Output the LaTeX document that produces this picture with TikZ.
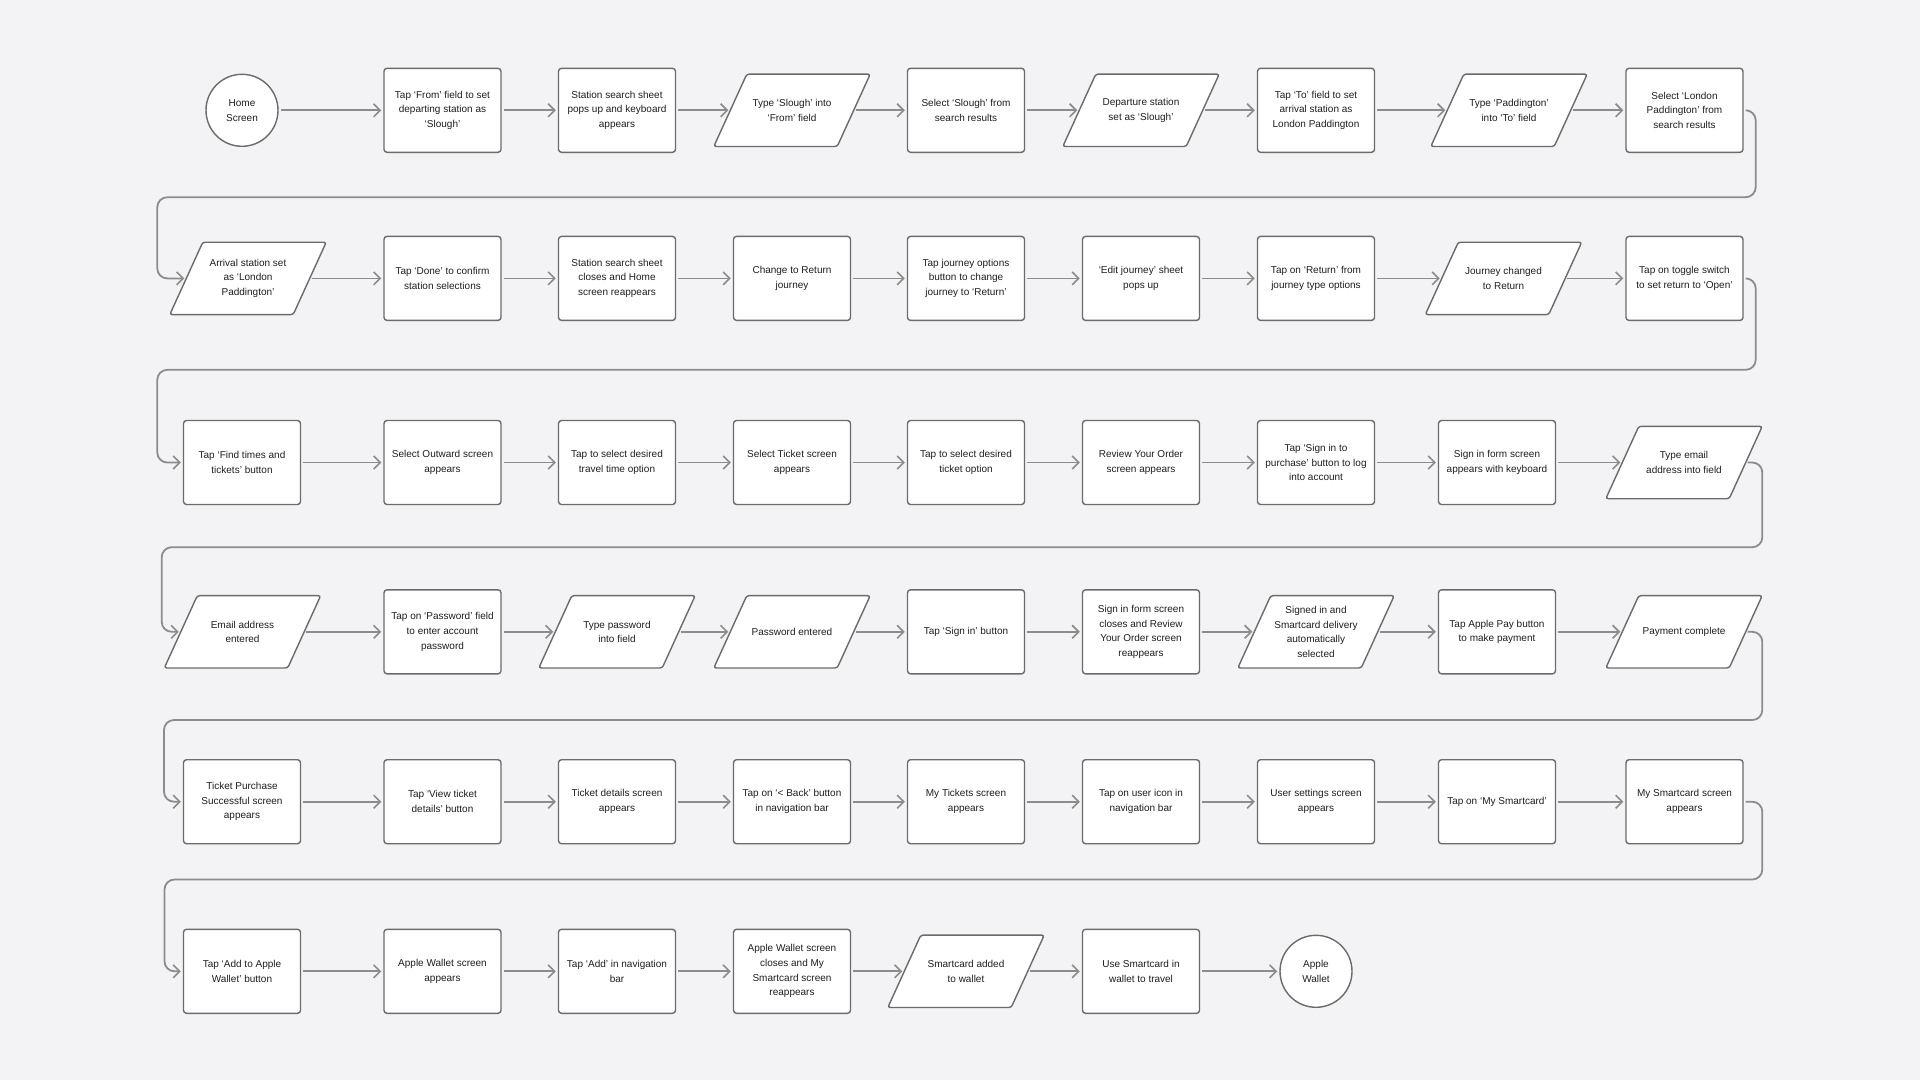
\documentclass[tikz,border=0pt]{standalone}
\usepackage{fontspec}
\setmainfont{Liberation Sans}
\usetikzlibrary{arrows.meta}
\definecolor{bgc}{HTML}{F3F3F5}
\definecolor{edgec}{HTML}{6B6B6B}
\definecolor{linec}{HTML}{8C8C8C}
\definecolor{txtc}{HTML}{1F1F1F}
\pgfdeclarelayer{background}
\pgfsetlayers{background,main}
\begin{document}
\begin{tikzpicture}[x=1pt,y=-1pt,
  txt/.style={font=\fontsize{10}{14.7}\selectfont, text=txtc, align=center, inner sep=0pt},
  box/.style={txt, draw=edgec, fill=white, line width=1.4pt, rounded corners=3pt, minimum width=117pt, minimum height=84pt},
  term/.style={txt, circle, draw=edgec, fill=white, line width=1.4pt, minimum size=72pt},
  para/.style={txt, minimum width=123pt, minimum height=72pt},
  paraoutline/.style={draw=edgec, fill=white, line width=1.4pt, rounded corners=2.5pt},
  conn/.style={draw=linec, line width=1.8pt, -{Straight Barb[length=6.5pt,width=13pt,line width=1.6pt]}, shorten <=2pt, shorten >=2pt},
]
\useasboundingbox (0,0) rectangle (1920,1080);
% Row 1
\node[term] (n1) at (242,110.3) {Home\\Screen};
\node[box]  (n2) at (442.5,110.3) {Tap ‘From’ field to set\\departing station as\\‘Slough’};
\node[box]  (n3) at (617,110.3) {Station search sheet\\pops up and keyboard\\appears};
\node[para] (n4) at (792,110.3) {Type ‘Slough’ into\\‘From’ field};
\node[box]  (n5) at (966,110.3) {Select ‘Slough’ from\\search results};
\node[para] (n6) at (1141,110.3) {Departure station\\set as ‘Slough’};
\node[box]  (n7) at (1316,110.3) {Tap ‘To’ field to set\\arrival station as\\London Paddington};
\node[para] (n8) at (1509,110.3) {Type ‘Paddington’\\into ‘To’ field};
\node[box]  (n9) at (1684.5,110.3) {Select ‘London\\Paddington’ from\\search results};
% Row 2
\node[para] (m1) at (248,278.4) {Arrival station set\\as ‘London\\Paddington’};
\node[box]  (m2) at (442.5,278.4) {Tap ‘Done’ to confirm\\station selections};
\node[box]  (m3) at (617,278.4) {Station search sheet\\closes and Home\\screen reappears};
\node[box]  (m4) at (792,278.4) {Change to Return\\journey};
\node[box]  (m5) at (966,278.4) {Tap journey options\\button to change\\journey to ‘Return’};
\node[box]  (m6) at (1141,278.4) {‘Edit journey’ sheet\\pops up};
\node[box]  (m7) at (1316,278.4) {Tap on ‘Return’ from\\journey type options};
\node[para] (m8) at (1503.5,278.4) {Journey changed\\to Return};
\node[box]  (m9) at (1684.5,278.4) {Tap on toggle switch\\to set return to ‘Open’};
% Row 3
\node[box]  (r1) at (242,462.5) {Tap ‘Find times and\\tickets’ button};
\node[box]  (r2) at (442.5,462.5) {Select Outward screen\\appears};
\node[box]  (r3) at (617,462.5) {Tap to select desired\\travel time option};
\node[box]  (r4) at (792,462.5) {Select Ticket screen\\appears};
\node[box]  (r5) at (966,462.5) {Tap to select desired\\ticket option};
\node[box]  (r6) at (1141,462.5) {Review Your Order\\screen appears};
\node[box]  (r7) at (1316,462.5) {Tap ‘Sign in to\\purchase’ button to log\\into account};
\node[box]  (r8) at (1497,462.5) {Sign in form screen\\appears with keyboard};
\node[para] (r9) at (1684,462.5) {Type email\\address into field};
% Row 4
\node[para] (s1) at (242.5,631.8) {Email address\\entered};
\node[box]  (s2) at (442.5,631.8) {Tap on ‘Password’ field\\to enter account\\password};
\node[para] (s3) at (617,631.8) {Type password\\into field};
\node[para] (s4) at (792,631.8) {Password entered};
\node[box]  (s5) at (966,631.8) {Tap ‘Sign in’ button};
\node[box]  (s6) at (1141,631.8) {Sign in form screen\\closes and Review\\Your Order screen\\reappears};
\node[para] (s7) at (1316,631.8) {Signed in and\\Smartcard delivery\\automatically\\selected};
\node[box]  (s8) at (1497,631.8) {Tap Apple Pay button\\to make payment};
\node[para] (s9) at (1684,631.8) {Payment complete};
% Row 5
\node[box]  (t1) at (242,801.7) {Ticket Purchase\\Successful screen\\appears};
\node[box]  (t2) at (442.5,801.7) {Tap ‘View ticket\\details’ button};
\node[box]  (t3) at (617,801.7) {Ticket details screen\\appears};
\node[box]  (t4) at (792,801.7) {Tap on ‘< Back’ button\\in navigation bar};
\node[box]  (t5) at (966,801.7) {My Tickets screen\\appears};
\node[box]  (t6) at (1141,801.7) {Tap on user icon in\\navigation bar};
\node[box]  (t7) at (1316,801.7) {User settings screen\\appears};
\node[box]  (t8) at (1497,801.7) {Tap on ‘My Smartcard’};
\node[box]  (t9) at (1684.5,801.7) {My Smartcard screen\\appears};
% Row 6
\node[box]  (u1) at (242,971.3) {Tap ‘Add to Apple\\Wallet’ button};
\node[box]  (u2) at (442.5,971.3) {Apple Wallet screen\\appears};
\node[box]  (u3) at (617,971.3) {Tap ‘Add’ in navigation\\bar};
\node[box]  (u4) at (792,971.3) {Apple Wallet screen\\closes and My\\Smartcard screen\\reappears};
\node[para] (u5) at (966,971.3) {Smartcard added\\to wallet};
\node[box]  (u6) at (1141,971.3) {Use Smartcard in\\wallet to travel};
\node[term] (u7) at (1316,971.3) {Apple\\Wallet};

\begin{pgfonlayer}{background}
  \fill[bgc] (0,0) rectangle (1920,1080);
  \foreach \p in {n4,n6,n8,m1,m8,r9,s1,s3,s4,s7,s9,u5}
    \path[paraoutline] ([xshift=16.5pt]\p.north west) -- ([xshift=16.5pt]\p.north east)
      -- ([xshift=-16.5pt]\p.south east) -- ([xshift=-16.5pt]\p.south west) -- cycle;
\end{pgfonlayer}

% in-row connectors
\foreach \a/\b in {n1/n2,n2/n3,n3/n4,n4/n5,n5/n6,n6/n7,n7/n8,n8/n9,
                   m1/m2,m2/m3,m3/m4,m4/m5,m5/m6,m6/m7,m7/m8,m8/m9,
                   r1/r2,r2/r3,r3/r4,r4/r5,r5/r6,r6/r7,r7/r8,r8/r9,
                   s1/s2,s2/s3,s3/s4,s4/s5,s5/s6,s6/s7,s7/s8,s8/s9,
                   t1/t2,t2/t3,t3/t4,t4/t5,t5/t6,t6/t7,t7/t8,t8/t9,
                   u1/u2,u2/u3,u3/u4,u4/u5,u5/u6,u6/u7}
  \draw[conn] (\a.east) -- (\b.west);

% row wraps
\coordinate (w1r) at (1755.7,197.2); \coordinate (w1l) at (157.3,197.2);
\coordinate (w2r) at (1755.7,369.8); \coordinate (w2l) at (157.3,369.8);
\coordinate (w3r) at (1762.3,547.2); \coordinate (w3l) at (161.7,547.2);
\coordinate (w4r) at (1762.3,720);   \coordinate (w4l) at (164,720);
\coordinate (w5r) at (1762.3,879.5); \coordinate (w5l) at (164.5,879.5);
\draw[conn, rounded corners=10pt] (n9.east) -| (w1r) -- (w1l) |- (m1.west);
\draw[conn, rounded corners=10pt] (m9.east) -| (w2r) -- (w2l) |- (r1.west);
\draw[conn, rounded corners=10pt] (r9.east) -| (w3r) -- (w3l) |- (s1.west);
\draw[conn, rounded corners=10pt] (s9.east) -| (w4r) -- (w4l) |- (t1.west);
\draw[conn, rounded corners=10pt] (t9.east) -| (w5r) -- (w5l) |- (u1.west);
\end{tikzpicture}
\end{document}
